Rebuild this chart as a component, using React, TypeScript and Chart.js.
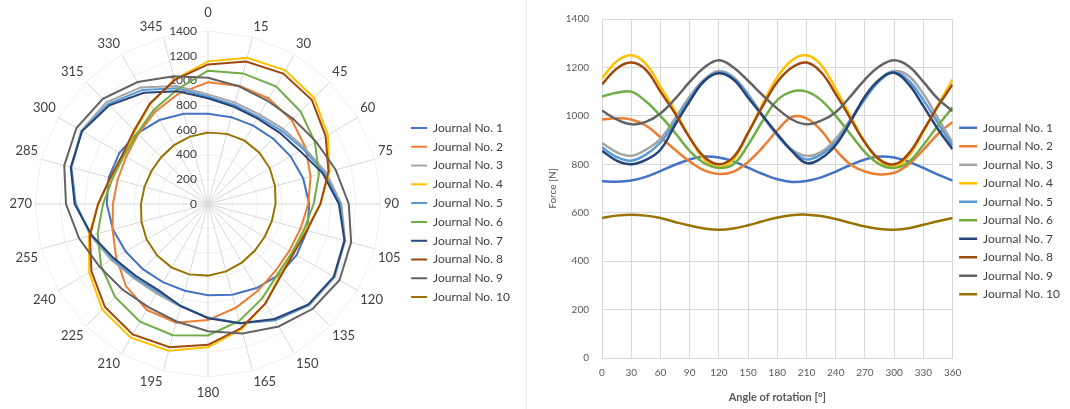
import React, { useEffect, useRef } from 'react';
import { Chart, registerables } from 'chart.js';

Chart.register(...registerables);

// ---- data ----
const angles = [0, 15, 30, 45, 60, 75, 90, 105, 120, 135, 150, 165, 180, 195, 210, 225, 240, 255, 270, 285, 300, 315, 330, 345, 360];
const radarLabels = ['0', '15', '30', '45', '60', '75', '90', '105', '120', '135', '150', '165', '180', '195', '210', '225', '240', '255', '270', '285', '300', '315', '330', '345'];
const seriesNames = ['Journal No. 1', 'Journal No. 2', 'Journal No. 3', 'Journal No. 4', 'Journal No. 5', 'Journal No. 6', 'Journal No. 7', 'Journal No. 8', 'Journal No. 9', 'Journal No. 10'];
const seriesColors = ['#4472C4', '#ED7D31', '#A5A5A5', '#FFC000', '#5B9BD5', '#70AD47', '#264478', '#9E480E', '#636363', '#997300'];

const journal1 = [730, 728, 733, 748, 772, 798, 820, 832, 828, 812, 786, 760, 738, 727, 731, 746, 770, 797, 820, 832, 828, 810, 785, 757, 733];
const journal2 = [985, 990, 985, 960, 912, 860, 812, 775, 760, 770, 810, 870, 940, 995, 990, 940, 860, 800, 770, 758, 765, 800, 860, 925, 975];
const journal3 = [888, 850, 835, 860, 905, 990, 1080, 1150, 1185, 1160, 1090, 1000, 920, 860, 835, 850, 905, 985, 1075, 1150, 1185, 1165, 1090, 990, 890];
const journal4 = [1155, 1225, 1250, 1215, 1120, 1020, 910, 820, 790, 820, 930, 1050, 1160, 1230, 1250, 1210, 1110, 1000, 890, 815, 790, 835, 935, 1045, 1150];
const journal5 = [870, 830, 815, 840, 890, 975, 1070, 1145, 1180, 1155, 1085, 1000, 920, 855, 820, 840, 890, 980, 1070, 1145, 1180, 1145, 1065, 970, 875];
const journal6 = [1080, 1095, 1100, 1060, 1000, 930, 855, 805, 785, 800, 880, 980, 1065, 1100, 1100, 1065, 1000, 925, 850, 800, 785, 810, 880, 960, 1035];
const journal7 = [856, 815, 800, 818, 860, 962, 1060, 1144, 1176, 1150, 1075, 1000, 925, 855, 805, 825, 880, 975, 1080, 1150, 1178, 1130, 1040, 945, 862];
const journal8 = [1130, 1195, 1220, 1190, 1100, 1010, 910, 830, 800, 830, 930, 1040, 1140, 1200, 1220, 1180, 1090, 990, 890, 820, 800, 845, 940, 1040, 1130];
const journal9 = [1022, 985, 965, 975, 1010, 1070, 1140, 1200, 1230, 1200, 1145, 1085, 1030, 985, 965, 980, 1015, 1080, 1150, 1205, 1230, 1205, 1140, 1070, 1020];
const journal10 = [578, 588, 592, 588, 578, 562, 547, 535, 530, 535, 548, 565, 580, 590, 592, 586, 574, 558, 543, 533, 530, 536, 550, 565, 578];

const allSeries = [journal1, journal2, journal3, journal4, journal5, journal6, journal7, journal8, journal9, journal10];

const FONT = "Lato, 'Liberation Sans', sans-serif";
const TEXT = '#595959';
const DARK_TEXT = '#404040';
const GRID = '#d9d9d9';

const radarTickPlugin = {
  id: 'radarTicks',
  beforeDatasetsDraw(chart: any) {
    const s = chart.scales.r;
    const ctx = chart.ctx;
    ctx.save();
    ctx.font = `12px ${FONT}`;
    ctx.fillStyle = DARK_TEXT;
    ctx.textAlign = 'right';
    ctx.textBaseline = 'middle';
    s.ticks.forEach((t: any) => {
      ctx.fillText(String(t.value), s.xCenter - 11, s.yCenter - s.getDistanceFromCenterForValue(t.value));
    });
    ctx.restore();
  },
};

const legendOpts = (pad: number, boxW: number, titleSize: number, fullSize: boolean) => ({
  position: 'right' as const,
  fullSize,
  title: { display: true, text: '', padding: 0, font: { size: titleSize } },
  labels: {
    usePointStyle: true,
    pointStyle: 'line',
    pointStyleWidth: boxW,
    padding: pad,
    font: { family: FONT, size: 12 },
    color: DARK_TEXT,
    sort: (a: any, b: any) => a.datasetIndex - b.datasetIndex,
  },
});

export default function App() {
  const radarRef = useRef<HTMLCanvasElement>(null);
  const lineRef = useRef<HTMLCanvasElement>(null);

  useEffect(() => {
    const radar = new Chart(radarRef.current as HTMLCanvasElement, {
      type: 'radar',
      data: {
        labels: radarLabels,
        datasets: allSeries.map((vals, i) => ({
          label: seriesNames[i],
          data: vals.slice(0, 24),
          borderColor: seriesColors[i],
          backgroundColor: seriesColors[i],
          borderWidth: 2,
          pointRadius: 0,
          fill: false,
          tension: 0,
          order: 10 - i,
        })),
      },
      options: {
        animation: false,
        responsive: false,
        maintainAspectRatio: false,
        layout: { padding: { left: 6.5, top: 3, bottom: 5, right: 0 } },
        plugins: {
          legend: legendOpts(6.8, 16, 15, true),
          tooltip: { enabled: false },
        },
        scales: {
          r: {
            min: 0,
            max: 1400,
            ticks: { stepSize: 200, display: false },
            grid: { color: '#efefef' },
            angleLines: { color: GRID },
            pointLabels: {
              font: { family: FONT, size: 13 },
              color: DARK_TEXT,
              padding: (ctx: any) => (ctx.index === 0 ? 11 : ctx.index === 12 ? 8 : 3),
            },
          },
        },
      } as any,
      plugins: [radarTickPlugin],
    });

    const line = new Chart(lineRef.current as HTMLCanvasElement, {
      type: 'line',
      data: {
        datasets: allSeries.map((vals, i) => ({
          label: seriesNames[i],
          data: angles.map((a, k) => ({ x: a, y: vals[k] })),
          borderColor: seriesColors[i],
          backgroundColor: seriesColors[i],
          borderWidth: 2.5,
          pointRadius: 0,
          fill: false,
          tension: 0.4,
          order: 10 - i,
        })),
      },
      options: {
        animation: false,
        responsive: false,
        maintainAspectRatio: false,
        layout: { padding: { left: 0, top: 17, bottom: 0, right: 0 } },
        plugins: {
          legend: legendOpts(6.5, 18, 37.5, false),
          tooltip: { enabled: false },
        },
        scales: {
          x: {
            type: 'linear',
            min: 0,
            max: 360,
            ticks: { stepSize: 30, autoSkip: false, maxRotation: 0, font: { family: FONT, size: 10 }, color: TEXT, padding: 9, callback: (v: any) => String(v) },
            grid: { color: GRID, drawTicks: false },
            border: { color: GRID },
            title: { display: true, text: 'Angle of rotation [°]', font: { family: FONT, size: 11, weight: 'bold' }, color: TEXT, padding: { top: 4, bottom: 5 } },
            afterFit: (s: any) => { s.height = 51; },
          },
          y: {
            min: 0,
            max: 1400,
            ticks: { stepSize: 200, font: { family: FONT, size: 10 }, color: TEXT, padding: 13, callback: (v: any) => String(v) },
            grid: { color: GRID, drawTicks: false },
            border: { display: false },
            title: { display: true, text: 'Force [N]', font: { family: FONT, size: 10 }, color: TEXT, padding: { top: 7, bottom: 4 } },
            afterFit: (s: any) => { s.width = 62; },
          },
        },
      } as any,
    });

    return () => {
      radar.destroy();
      line.destroy();
    };
  }, []);

  return (
    <div style={{ position: 'absolute', left: 0, top: 0, width: 1070, height: 409, background: '#fff', overflow: 'hidden' }}>
      <canvas ref={radarRef} width={520} height={409} style={{ position: 'absolute', left: 0, top: 0, width: 520, height: 409 }} />
      <div style={{ position: 'absolute', left: 526, top: 0, width: 1, height: 409, background: '#ececec' }} />
      <canvas ref={lineRef} width={530} height={409} style={{ position: 'absolute', left: 540, top: 0, width: 530, height: 409 }} />
    </div>
  );
}
